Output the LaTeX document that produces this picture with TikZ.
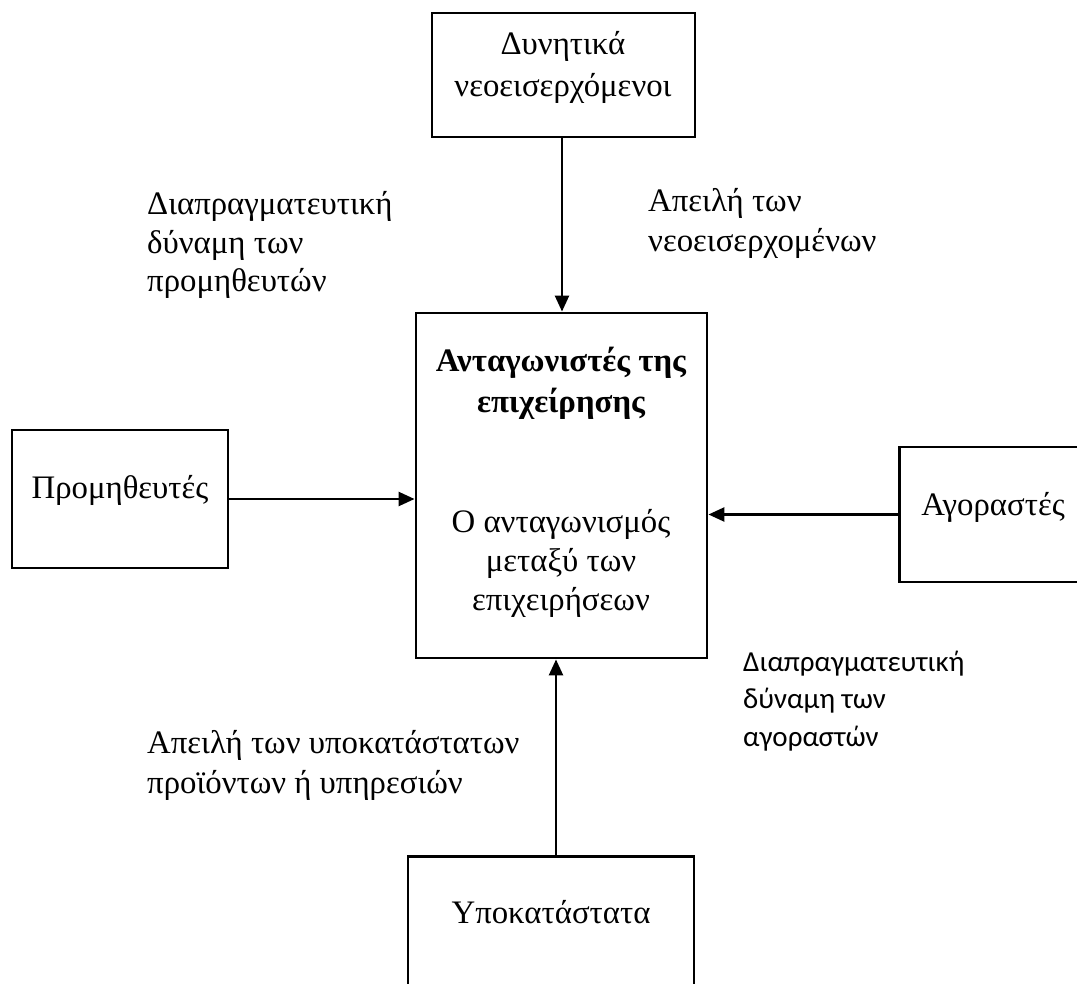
\documentclass[tikz,border=0pt]{standalone}
\usepackage{fontspec}
\setmainfont{Liberation Serif}
\newfontfamily\calibrifont{Carlito}
\usetikzlibrary{arrows.meta}
\begin{document}
\begin{tikzpicture}[x=1pt,y=-1pt,
  boxnode/.style={draw,line width=2.9pt,minimum width=#1,inner sep=0pt},
  lbl/.style={inner sep=0pt,anchor=base west,align=left,font=\fontsize{32.8}{38}\selectfont},
  ctext/.style={inner sep=0pt,anchor=base,align=center,font=\fontsize{32.8}{38}\selectfont},
  arr/.style={line width=2.5pt,-{Triangle[length=16pt,width=14pt]}}]
\useasboundingbox (0,0) rectangle (1077,984);
\clip (0,0) rectangle (1077,984);
% boxes
\node[boxnode=263pt,minimum height=124pt] (top) at (563.5,75) {};
\node[boxnode=291pt,minimum height=345pt] (mid) at (561.5,485.5) {};
\node[boxnode=216pt,minimum height=138pt] (left) at (120,499) {};
\node[boxnode=192pt,minimum height=135pt,anchor=west] (right) at (898,514.5) {};
\node[boxnode=286pt,minimum height=150pt,anchor=north] (bot) at (551,855) {};
% box texts (anchor base = last line baseline)
\node[ctext,font=\fontsize{32.8}{42}\selectfont] (toptext) at (563,97) {Δυνητικά\\νεοεισερχόμενοι};
\node[ctext,font=\fontsize{32.8}{41}\selectfont\bfseries] (midtitle) at (561,413) {Ανταγωνιστές της\\επιχείρησης};
\node[ctext,font=\fontsize{32.8}{39}\selectfont] (midtext) at (561,610) {Ο ανταγωνισμός\\μεταξύ των\\επιχειρήσεων};
\node[ctext] (lefttext) at (120,498) {Προμηθευτές};
\node[ctext] (righttext) at (993,515) {Αγοραστές};
\node[ctext] (bottext) at (551,923) {Υποκατάστατα};
% labels
\node[lbl,font=\fontsize{32.8}{38.5}\selectfont] (supl) at (147,292) {Διαπραγματευτική\\δύναμη των\\προμηθευτών};
\node[lbl,font=\fontsize{32.8}{40}\selectfont] (newl) at (648,252) {Απειλή των\\νεοεισερχομένων};
\node[lbl,font=\fontsize{32.8}{40}\selectfont] (subl) at (147,793) {Απειλή των υποκατάστατων\\προϊόντων ή υπηρεσιών};
\node[lbl,font=\calibrifont\fontsize{29}{37.5}\selectfont] (buyl) at (743,746) {Διαπραγματευτική\\δύναμη των\\αγοραστών};
% connectors
\coordinate (topend) at (top.south -| 562,0);
\draw[arr] (topend) -- (topend |- mid.north);
\draw[arr] (left.east) -- (left.east -| mid.west);
\draw[arr] (right.west) -- (right.west -| mid.east);
\coordinate (botstart) at ([xshift=5pt]bot.north);
\draw[arr] (botstart) -- (botstart |- mid.south);
\end{tikzpicture}
\end{document}
